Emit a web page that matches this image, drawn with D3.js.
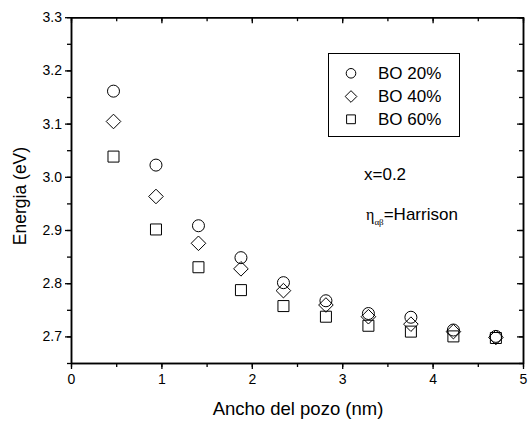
<!DOCTYPE html>
<html><head><meta charset="utf-8">
<script src="https://cdn.jsdelivr.net/npm/d3@7"></script>
<style>body{margin:0;background:#fff}svg{display:block;font-family:"Liberation Sans",Arial,sans-serif}</style>
</head><body><svg id="c" width="528" height="421"></svg>
<script>
const widths = [0.47, 0.94, 1.41, 1.88, 2.35, 2.82, 3.29, 3.76, 4.23, 4.70];
const bo20 = [3.161, 3.022, 2.908, 2.848, 2.801, 2.767, 2.743, 2.736, 2.712, 2.700];
const bo40 = [3.104, 2.963, 2.875, 2.827, 2.786, 2.759, 2.737, 2.723, 2.709, 2.698];
const bo60 = [3.038, 2.901, 2.830, 2.787, 2.757, 2.737, 2.720, 2.709, 2.700, 2.697];
const seriesNames = ["BO 20%", "BO 40%", "BO 60%"];
const xTicks = [0, 1, 2, 3, 4, 5];
const yTicks = [2.7, 2.8, 2.9, 3.0, 3.1, 3.2, 3.3];

const L = 71, R = 523, T = 17.2, B = 363;
const svg = d3.select("#c");
const x = d3.scaleLinear().domain([0, 5]).range([L, R]);
const y = d3.scaleLinear().domain([2.65, 3.3]).range([B, T]);

const xMinor = d3.range(0, 5.01, 0.5);
const yMinor = d3.range(2.65, 3.301, 0.05).map(v => +v.toFixed(2));

function styleAxis(g) {
  g.select(".domain").attr("stroke", "#000").attr("stroke-width", 1.5);
  g.selectAll(".tick line").attr("stroke", "#000").attr("stroke-width", 1.3);
  g.selectAll("text").attr("fill", "#000").style("font-size", "14px").style("font-family", "'Liberation Sans',Arial,sans-serif");
}
// bottom
svg.append("g").attr("transform", `translate(0,${B})`)
  .call(d3.axisBottom(x).tickValues(xMinor).tickSize(4).tickFormat("").tickSizeOuter(0)).call(styleAxis);
svg.append("g").attr("transform", `translate(0,${B})`)
  .call(d3.axisBottom(x).tickValues(xTicks).tickSize(6).tickPadding(5).tickFormat(d3.format("d")).tickSizeOuter(0)).call(styleAxis);
// top
svg.append("g").attr("transform", `translate(0,${T})`)
  .call(d3.axisBottom(x).tickValues(xMinor).tickSize(4).tickFormat("").tickSizeOuter(0)).call(styleAxis);
svg.append("g").attr("transform", `translate(0,${T})`)
  .call(d3.axisBottom(x).tickValues(xTicks).tickSize(6).tickFormat("").tickSizeOuter(0)).call(styleAxis);
// left
svg.append("g").attr("transform", `translate(${L},0)`)
  .call(d3.axisLeft(y).tickValues(yMinor).tickSize(4).tickFormat("").tickSizeOuter(0)).call(styleAxis);
svg.append("g").attr("transform", `translate(${L},0)`)
  .call(d3.axisLeft(y).tickValues(yTicks).tickSize(6).tickPadding(3).tickFormat(d3.format(".1f")).tickSizeOuter(0)).call(styleAxis);
// right
svg.append("g").attr("transform", `translate(${R},0)`)
  .call(d3.axisLeft(y).tickValues(yMinor).tickSize(4).tickFormat("").tickSizeOuter(0)).call(styleAxis);
svg.append("g").attr("transform", `translate(${R},0)`)
  .call(d3.axisLeft(y).tickValues(yTicks).tickSize(6).tickFormat("").tickSizeOuter(0)).call(styleAxis);

// axis titles
svg.append("text").attr("x", 298).attr("y", 415).attr("text-anchor", "middle")
  .style("font-size", "18.5px").text("Ancho del pozo (nm)");
svg.append("text").attr("transform", `translate(26,196) rotate(-90)`).attr("text-anchor", "middle")
  .style("font-size", "17.5px").text("Energia (eV)");

function shape(i, s) {
  s = s || 1;
  if (i === 0) return d3.symbol().type(d3.symbolCircle).size(Math.PI * 36 * s * s)();
  if (i === 1) { const h = 7.3 * s; return `M0,${-h}L${h},0L0,${h}L${-h},0Z`; }
  const q = 5.5 * s; return `M${-q},${-q}H${q}V${q}H${-q}Z`;
}
const all = [bo20, bo40, bo60];
all.forEach((vals, i) => {
  svg.append("g").selectAll("path").data(vals).join("path")
    .attr("transform", (d, j) => `translate(${x(widths[j])},${y(d)})`)
    .attr("d", shape(i)).attr("fill", "none").attr("stroke", "#000").attr("stroke-width", 1);
});

// legend
svg.append("rect").attr("x", 328.5).attr("y", 53.5).attr("width", 131).attr("height", 83)
  .attr("fill", "none").attr("stroke", "#000").attr("stroke-width", 1);
const ly = [73.3, 96.5, 119.3];
seriesNames.forEach((n, i) => {
  svg.append("path").attr("transform", `translate(351,${ly[i]})`)
    .attr("d", shape(i, 0.8)).attr("fill", "none").attr("stroke", "#000");
  svg.append("text").attr("x", 378).attr("y", ly[i] + 5.5).style("font-size", "17px").text(n);
});
svg.append("text").attr("x", 364).attr("y", 180).style("font-size", "17px").text("x=0.2");
const t = svg.append("text").attr("x", 366).attr("y", 220).style("font-size", "17px");
t.append("tspan").style("font-family", "'Liberation Serif',serif").style("font-size", "16px").text("η");
t.append("tspan").attr("dy", 5).style("font-size", "9px").style("font-family", "'Liberation Serif',serif").text("αβ");
t.append("tspan").attr("dy", -5).text("=Harrison");
</script></body></html>
